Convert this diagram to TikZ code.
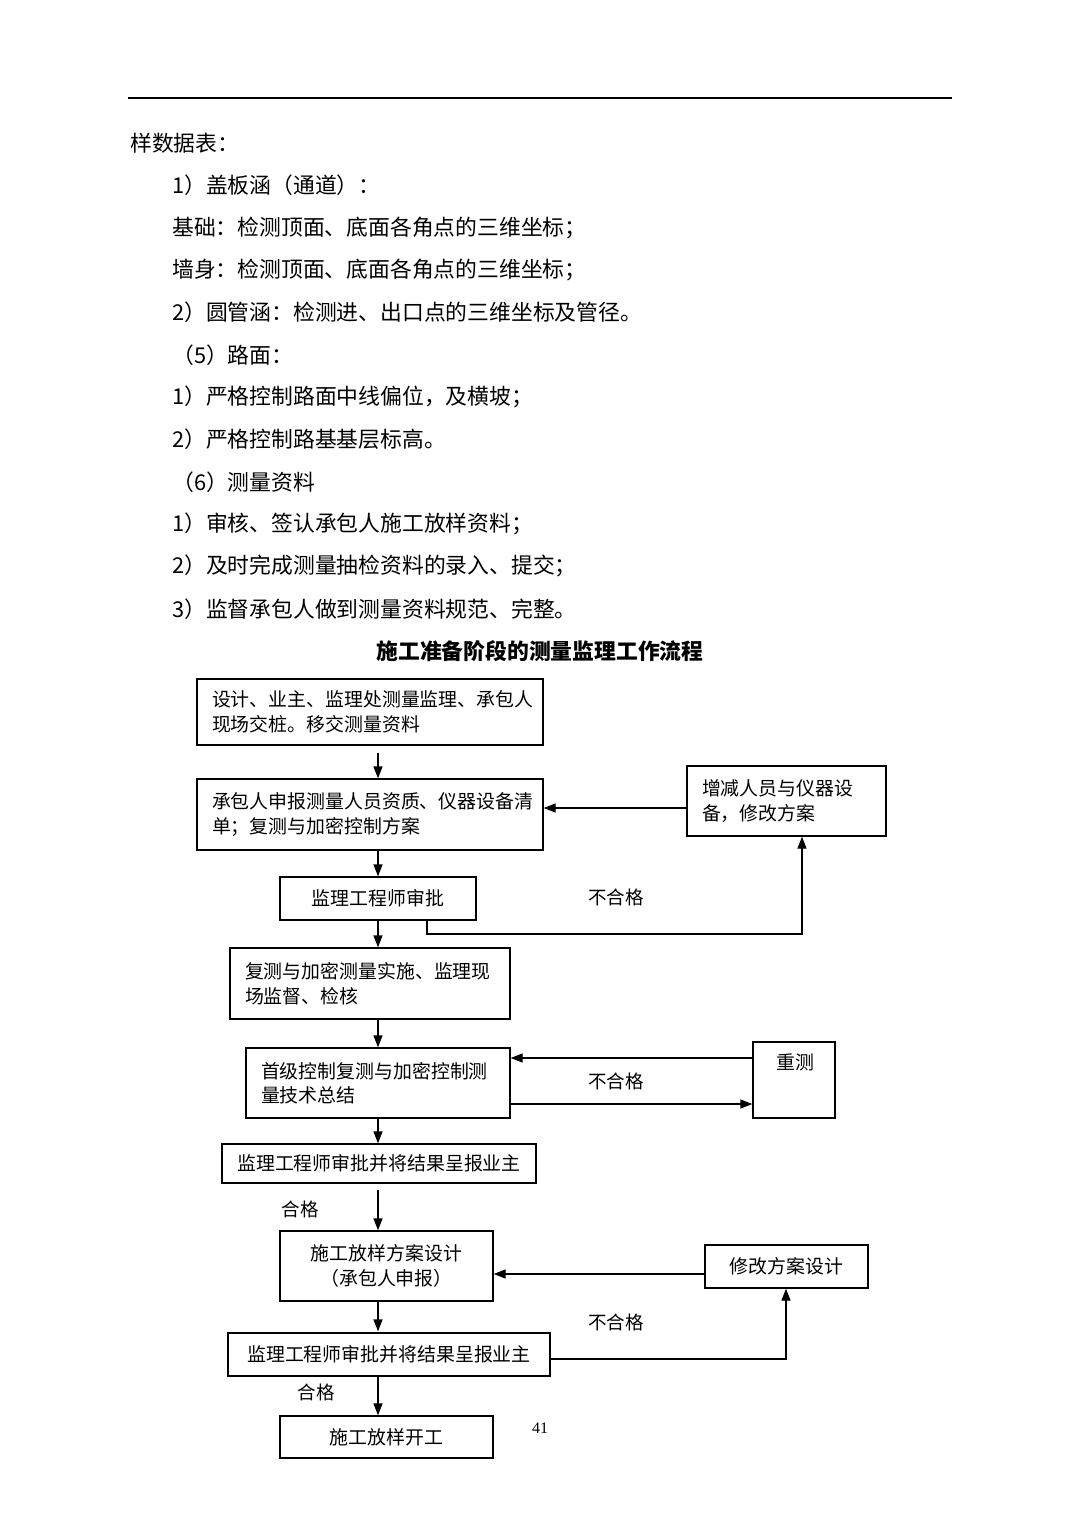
\documentclass[tikz,border=0pt]{standalone}
\usepackage{fontspec}
\setmainfont{Noto Sans CJK SC}
\newfontfamily\numfont{Liberation Serif}
\usetikzlibrary{arrows.meta}
\begin{document}
\begin{tikzpicture}[x=1pt,y=-1pt,
 body/.style={anchor=west,inner sep=0pt,font=\fontsize{21.8}{25}\selectfont},
 box/.style={draw,line width=1.3pt,inner ysep=0pt,font=\fontsize{18.9}{24.5}\selectfont},
 lbox/.style={box,align=left,inner xsep=15pt},
 cbox/.style={box,align=center,inner xsep=0pt},
 arr/.style={line width=1.3pt,-{Triangle[length=12pt,width=9pt]}},
 lbl/.style={inner sep=0pt,font=\fontsize{18.5}{22}\selectfont}]
\useasboundingbox (0,0) rectangle (1080,1527);
\fill[white] (0,0) rectangle (1080,1527);
% header rule
\draw[line width=1.2pt] (128,98) -- (952,98);
% body text
\node[body] (t1) at (130,143) {样数据表：};
\node[body] (t2) at (172,185) {1）盖板涵（通道）：};
\node[body] (t3) at (172,228) {基础：检测顶面、底面各角点的三维坐标；};
\node[body] (t4) at (172,270) {墙身：检测顶面、底面各角点的三维坐标；};
\node[body] (t5) at (172,312) {2）圆管涵：检测进、出口点的三维坐标及管径。};
\node[body] (t6) at (172,355) {（5）路面：};
\node[body] (t7) at (172,397) {1）严格控制路面中线偏位，及横坡；};
\node[body] (t8) at (172,439) {2）严格控制路基基层标高。};
\node[body] (t9) at (172,482) {（6）测量资料};
\node[body] (t10) at (172,524) {1）审核、签认承包人施工放样资料；};
\node[body] (t11) at (172,566) {2）及时完成测量抽检资料的录入、提交；};
\node[body] (t12) at (172,609) {3）监督承包人做到测量资料规范、完整。};
% title
\node[inner sep=0pt,font=\fontsize{21.8}{25}\selectfont\bfseries] (title) at (540,651) {施工准备阶段的测量监理工作流程};
% boxes
\node[lbox,text width=316pt,minimum height=66pt] (A) at (370,712) {设计、业主、监理处测量监理、承包人\\现场交桩。移交测量资料};
\node[lbox,text width=316pt,minimum height=71pt] (B) at (370,814.5) {承包人申报测量人员资质、仪器设备清\\单；复测与加密控制方案};
\node[lbox,text width=169pt,minimum height=70pt] (C) at (786.5,801) {增减人员与仪器设\\备，修改方案};
\node[cbox,minimum width=196pt,minimum height=43pt] (D) at (378,898.5) {监理工程师审批};
\node[lbox,text width=250pt,minimum height=71pt] (E) at (370,983.5) {复测与加密测量实施、监理现\\场监督、检核};
\node[lbox,text width=234pt,minimum height=70pt] (F) at (378,1083) {首级控制复测与加密控制测\\量技术总结};
\node[box,minimum width=82pt,minimum height=76pt] (G) at (794,1080) {};
\node[inner sep=0pt,font=\fontsize{18.9}{24.5}\selectfont] (Gt) at (795,1062) {重测};
\node[cbox,minimum width=314pt,minimum height=39pt] (H) at (379,1163.5) {监理工程师审批并将结果呈报业主};
\node[cbox,minimum width=213pt,minimum height=70pt] (I) at (386.5,1266) {施工放样方案设计\\（承包人申报）};
\node[cbox,minimum width=163pt,minimum height=43pt] (J) at (786.5,1266.5) {修改方案设计};
\node[cbox,minimum width=322pt,minimum height=43pt] (K) at (389,1354.5) {监理工程师审批并将结果呈报业主};
\node[cbox,minimum width=213pt,minimum height=42pt] (L) at (386.5,1437) {施工放样开工};
% helper coordinates
\coordinate (sp) at (378,0);
\coordinate (c1) at (688,808);
\coordinate (dcx) at (427,934);
\coordinate (dc) at (802,934);
\coordinate (gf) at (753,1058);
\coordinate (fg) at (753,1104);
\coordinate (ji) at (705,1274);
\coordinate (kj) at (786,1359);
% connectors
\draw[arr] ([yshift=-7pt]A.south -| sp) -- (B.north -| sp);
\draw[arr] (C.west |- c1) -- (B.east |- c1);
\draw[arr] (B.south -| sp) -- (D.north -| sp);
\draw[arr] (D.south -| dcx) -- (dcx) -- (dc) -- (C.south -| dc);
\draw[arr] (D.south -| sp) -- (E.north -| sp);
\draw[arr] (E.south -| sp) -- (F.north -| sp);
\draw[arr] (G.west |- gf) -- (F.east |- gf);
\draw[arr] (F.east |- fg) -- (G.west |- fg);
\draw[arr] (F.south -| sp) -- (H.north -| sp);
\draw[arr] ([yshift=-6pt]H.south -| sp) -- (I.north -| sp);
\draw[arr] (J.west |- ji) -- (I.east |- ji);
\draw[arr] (I.south -| sp) -- ([yshift=1pt]K.north -| sp);
\draw[arr] (K.east |- kj) -- (kj) -- (J.south -| kj);
\draw[arr] (K.south -| sp) -- (L.north -| sp);
% labels
\node[lbl] (n1) at (616,897) {不合格};
\node[lbl] (n2) at (616,1081) {不合格};
\node[lbl] (n3) at (616,1322) {不合格};
\node[lbl] (p1) at (300,1209) {合格};
\node[lbl] (p2) at (316,1392) {合格};
\node[inner sep=0pt,font=\numfont\fontsize{16}{18}\selectfont] (pg) at (540,1428) {41};
\end{tikzpicture}
\end{document}
